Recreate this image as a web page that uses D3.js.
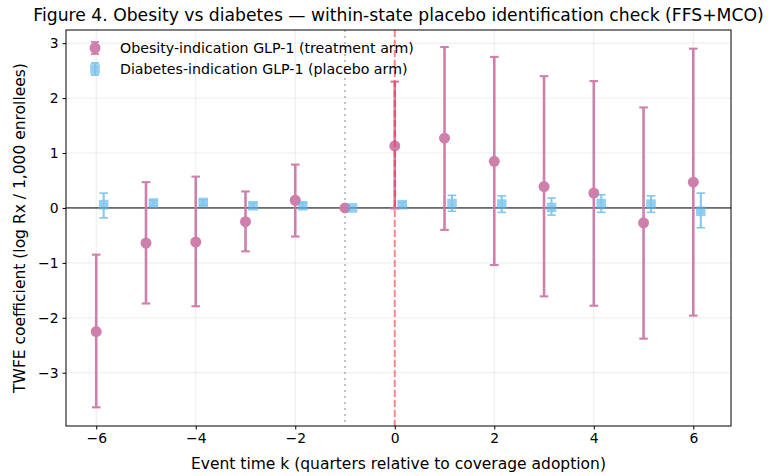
<!DOCTYPE html>
<html>
<head>
<meta charset="utf-8">
<script src="https://cdn.jsdelivr.net/npm/d3@7"></script>
<style>
  body { margin: 0; background: #fff; }
  svg { font-family: "DejaVu Sans", sans-serif; }
</style>
</head>
<body>
<div id="chart"></div>
<script>
// event time (quarters relative to adoption)
const eventTimes = [-6, -5, -4, -3, -2, -1, 0, 1, 2, 3, 4, 5, 6];

// obesity-indication (treatment arm): estimate, CI low, CI high
const obesityCoef = [-2.25, -0.64, -0.62, -0.25, 0.14, 0.0, 1.13, 1.27, 0.85, 0.39, 0.27, -0.27, 0.47];
const obesityLo   = [-3.63, -1.74, -1.79, -0.79, -0.52, null, -0.01, -0.40, -1.04, -1.61, -1.78, -2.38, -1.96];
const obesityHi   = [-0.85, 0.47, 0.57, 0.30, 0.79, null, 2.30, 2.93, 2.75, 2.40, 2.31, 1.83, 2.90];

// diabetes-indication (placebo arm)
const diabetesCoef = [0.06, 0.09, 0.10, 0.04, 0.04, 0.0, 0.06, 0.08, 0.07, 0.01, 0.08, 0.07, -0.06];
const diabetesLo   = [-0.18, 0.04, 0.05, -0.01, -0.01, null, 0.02, -0.06, -0.08, -0.13, -0.08, -0.08, -0.36];
const diabetesHi   = [0.27, 0.14, 0.15, 0.09, 0.09, null, 0.10, 0.23, 0.22, 0.18, 0.24, 0.22, 0.27];

const xTicks = [-6, -4, -2, 0, 2, 4, 6];
const yTicks = [-3, -2, -1, 0, 1, 2, 3];
const dodge = 0.15;

const W = 772, H = 476;
const margin = { left: 66, right: 41, top: 30, bottom: 50 };

const obesityColor = "#CC79A7";
const diabetesColor = "#56B4E9";

const svg = d3.select("#chart").append("svg")
  .attr("width", W).attr("height", H);

const x = d3.scaleLinear()
  .domain([-6.6075, 6.7575])
  .range([margin.left, W - margin.right]);
const y = d3.scaleLinear()
  .domain([-3.97, 3.24])
  .range([H - margin.bottom, margin.top]);

const obesity = eventTimes.map((k, i) => ({ k, v: obesityCoef[i], lo: obesityLo[i], hi: obesityHi[i] }));
const diabetes = eventTimes.map((k, i) => ({ k: k + dodge, v: diabetesCoef[i], lo: diabetesLo[i], hi: diabetesHi[i] }));

// grid
const grid = svg.append("g");
grid.selectAll(".gx").data(xTicks).enter().append("line")
  .attr("x1", d => x(d)).attr("x2", d => x(d))
  .attr("y1", margin.top).attr("y2", H - margin.bottom)
  .attr("stroke", "#b0b0b0").attr("stroke-opacity", 0.3).attr("stroke-width", 0.8);
grid.selectAll(".gy").data(yTicks).enter().append("line")
  .attr("x1", margin.left).attr("x2", W - margin.right)
  .attr("y1", d => y(d)).attr("y2", d => y(d))
  .attr("stroke", "#b0b0b0").attr("stroke-opacity", 0.3).attr("stroke-width", 0.8);

// zero line
svg.append("line")
  .attr("x1", margin.left).attr("x2", W - margin.right)
  .attr("y1", y(0)).attr("y2", y(0))
  .attr("stroke", "#000").attr("stroke-width", 1);

// reference period line at k = -1
svg.append("line")
  .attr("x1", x(-1)).attr("x2", x(-1))
  .attr("y1", margin.top).attr("y2", H - margin.bottom)
  .attr("stroke", "#aaa").attr("stroke-opacity", 0.7)
  .attr("stroke-width", 2).attr("stroke-dasharray", "2,4");

function drawSeries(data, color, opacity, lw, capW, marker) {
  const g = svg.append("g").attr("opacity", opacity);
  const withCI = data.filter(d => d.lo !== null);
  g.selectAll(".bar").data(withCI).enter().append("line")
    .attr("x1", d => x(d.k)).attr("x2", d => x(d.k))
    .attr("y1", d => y(d.lo)).attr("y2", d => y(d.hi))
    .attr("stroke", color).attr("stroke-width", lw);
  ["lo", "hi"].forEach(key => {
    g.selectAll(".cap" + key).data(withCI).enter().append("line")
      .attr("x1", d => x(d.k) - capW).attr("x2", d => x(d.k) + capW)
      .attr("y1", d => y(d[key])).attr("y2", d => y(d[key]))
      .attr("stroke", color).attr("stroke-width", lw * 0.8);
  });
  if (marker === "circle") {
    g.selectAll(".pt").data(data).enter().append("circle")
      .attr("cx", d => x(d.k)).attr("cy", d => y(d.v)).attr("r", 5.5)
      .attr("fill", color);
  } else {
    g.selectAll(".pt").data(data).enter().append("rect")
      .attr("x", d => x(d.k) - 4.8).attr("y", d => y(d.v) - 4.8)
      .attr("width", 9.6).attr("height", 9.6)
      .attr("fill", color).attr("fill-opacity", 0.85);
  }
}

drawSeries(obesity, obesityColor, 0.95, 2.6, 4.3, "circle");
drawSeries(diabetes, diabetesColor, 0.75, 2, 4.3, "square");

// adoption line at k = 0
svg.append("line")
  .attr("x1", x(0)).attr("x2", x(0))
  .attr("y1", margin.top).attr("y2", H - margin.bottom)
  .attr("stroke", "#ff2020").attr("stroke-opacity", 0.5)
  .attr("stroke-width", 2).attr("stroke-dasharray", "7,3");

// frame
svg.append("rect")
  .attr("x", margin.left).attr("y", margin.top)
  .attr("width", W - margin.left - margin.right)
  .attr("height", H - margin.top - margin.bottom)
  .attr("fill", "none").attr("stroke", "#000").attr("stroke-width", 1);

// axes
const xAxis = svg.append("g")
  .attr("transform", `translate(0,${H - margin.bottom})`)
  .call(d3.axisBottom(x).tickValues(xTicks).tickSize(3.5).tickPadding(4)
    .tickFormat(d => d < 0 ? "\u2212" + Math.abs(d) : d));
const yAxis = svg.append("g")
  .attr("transform", `translate(${margin.left},0)`)
  .call(d3.axisLeft(y).tickValues(yTicks).tickSize(3.5).tickPadding(4)
    .tickFormat(d => d < 0 ? "\u2212" + Math.abs(d) : d));
[xAxis, yAxis].forEach(a => {
  a.select(".domain").remove();
  a.selectAll("text").attr("font-size", 13.9).attr("fill", "#000")
    .attr("font-family", "DejaVu Sans");
  a.selectAll("line").attr("stroke", "#000");
});

// labels
svg.append("text")
  .attr("x", (margin.left + W - margin.right) / 2).attr("y", 469)
  .attr("text-anchor", "middle").attr("font-size", 15.5).text("Event time k (quarters relative to coverage adoption)");
svg.append("text")
  .attr("transform", `translate(25,${(margin.top + H - margin.bottom) / 2}) rotate(-90)`)
  .attr("text-anchor", "middle").attr("font-size", 15.5).text("TWFE coefficient (log Rx / 1,000 enrollees)");
svg.append("text")
  .attr("x", (margin.left + W - margin.right) / 2).attr("y", 21)
  .attr("text-anchor", "middle").attr("font-size", 17.2)
  .text("Figure 4. Obesity vs diabetes \u2014 within-state placebo identification check (FFS+MCO)");

// legend
const legendItems = [
  { label: "Obesity-indication GLP-1 (treatment arm)", color: obesityColor, opacity: 0.95, marker: "circle" },
  { label: "Diabetes-indication GLP-1 (placebo arm)", color: diabetesColor, opacity: 0.75, marker: "square" }
];
const legend = svg.append("g");
legendItems.forEach((item, i) => {
  const ly = 48 + i * 21;
  const g = legend.append("g").attr("opacity", item.opacity);
  g.append("line").attr("x1", 95).attr("x2", 95).attr("y1", ly - 6).attr("y2", ly + 6)
    .attr("stroke", item.color).attr("stroke-width", 2.2);
  [ly - 6, ly + 6].forEach(cy => g.append("line")
    .attr("x1", 91).attr("x2", 99).attr("y1", cy).attr("y2", cy)
    .attr("stroke", item.color).attr("stroke-width", 1.8));
  if (item.marker === "circle") {
    g.append("circle").attr("cx", 95).attr("cy", ly).attr("r", 5.5).attr("fill", item.color);
  } else {
    g.append("rect").attr("x", 90.2).attr("y", ly - 4.8).attr("width", 9.6).attr("height", 9.6)
      .attr("fill", item.color).attr("fill-opacity", 0.85);
  }
  legend.append("text").attr("x", 120).attr("y", ly + 5).attr("font-size", 14.2)
    .text(item.label);
});
</script>
</body>
</html>
